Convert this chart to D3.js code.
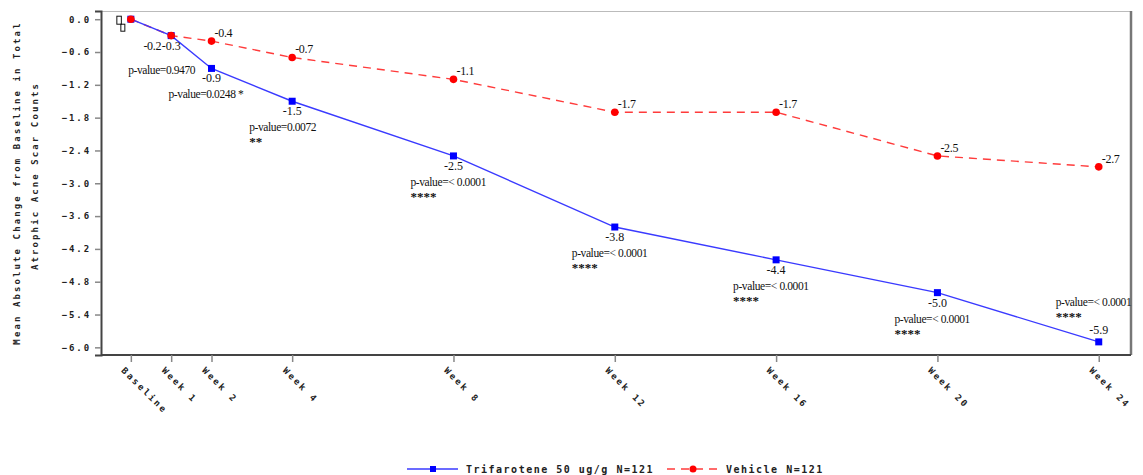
<!DOCTYPE html>
<html>
<head>
<meta charset="utf-8">
<script src="https://cdn.jsdelivr.net/npm/d3@7"></script>
<style>
  html, body { margin: 0; padding: 0; background: #fff; }
  svg { display: block; }
  .mono { font-family: "DejaVu Sans Mono", monospace; font-weight: bold; fill: #222; }
  .serif { font-family: "Liberation Serif", "DejaVu Serif", serif; fill: #111; }
</style>
</head>
<body>
<svg id="chart" width="1143" height="475"></svg>
<script>
// ---------- data ----------
const weeks = [0, 1, 2, 4, 8, 12, 16, 20, 24];
const weekLabels = ["Baseline", "Week 1", "Week 2", "Week 4", "Week 8", "Week 12", "Week 16", "Week 20", "Week 24"];
const trifarotene = [0, -0.3, -0.9, -1.5, -2.5, -3.8, -4.4, -5.0, -5.9];
const trifaroteneLabels = ["", "-0.3", "-0.9", "-1.5", "-2.5", "-3.8", "-4.4", "-5.0", "-5.9"];
const vehicle = [0, -0.3, -0.4, -0.7, -1.1, -1.7, -1.7, -2.5, -2.7];
const vehicleLabels = ["", "-0.2", "-0.4", "-0.7", "-1.1", "-1.7", "-1.7", "-2.5", "-2.7"];
const pValues = ["", "p-value=0.9470", "p-value=0.0248 *", "p-value=0.0072", "p-value=< 0.0001", "p-value=< 0.0001", "p-value=< 0.0001", "p-value=< 0.0001", "p-value=< 0.0001"];
const pStars = ["", "", "", "**", "****", "****", "****", "****", "****"];
const yTicks = [0, -0.6, -1.2, -1.8, -2.4, -3.0, -3.6, -4.2, -4.8, -5.4, -6.0];
const yTitle = ["Mean Absolute Change from Baseline in Total", "Atrophic Acne Scar Counts"];
const seriesNames = ["Trifarotene 50 ug/g N=121", "Vehicle N=121"];

// ---------- layout ----------
const svg = d3.select("#chart");
const L = 101, R = 1131, T = 11, B = 355;
const x = d3.scaleLinear().domain([-0.74, 24.8]).range([L, R]);
const y = d3.scaleLinear().domain([0.15, -6.14]).range([T, B]);
const blue = "#0000ff", red = "#ff0000";

// frame
svg.append("line").attr("x1", L).attr("x2", R).attr("y1", T + 0.5).attr("y2", T + 0.5)
  .attr("stroke", "#bbb").attr("stroke-width", 1);
svg.append("line").attr("x1", R).attr("x2", R).attr("y1", T).attr("y2", B)
  .attr("stroke", "#777").attr("stroke-width", 2.5);

// y axis
const yAxis = svg.append("g").attr("transform", `translate(${L},0)`)
  .call(d3.axisLeft(y).tickValues(yTicks).tickFormat(d3.format(".1f")).tickSize(6).tickPadding(4));
yAxis.select(".domain").attr("stroke", "#444").attr("stroke-width", 2);
yAxis.selectAll(".tick line").attr("stroke", "#888").attr("stroke-width", 1.5);
yAxis.selectAll(".tick text").attr("class", "mono").attr("font-size", 9)
  .style("letter-spacing", "1.9px").attr("fill", "#222");

// x axis
const xAxis = svg.append("g").attr("transform", `translate(0,${B})`)
  .call(d3.axisBottom(x).tickValues(weeks).tickFormat("").tickSize(7).tickSizeOuter(0));
xAxis.select(".domain").attr("stroke", "#444").attr("stroke-width", 2)
  .attr("d", `M${L},0H${R}`);
xAxis.selectAll(".tick line").attr("stroke", "#888").attr("stroke-width", 1.5);
svg.append("g").selectAll("text").data(weeks).join("text")
  .attr("class", "mono").attr("font-size", 9).style("letter-spacing", "2.2px")
  .attr("transform", d => `translate(${x(d) - 10},${B + 16}) rotate(45)`)
  .text((d, i) => weekLabels[i]);

// y title
svg.append("g").selectAll("text").data(yTitle).join("text")
  .attr("class", "mono").attr("font-size", 9).style("letter-spacing", "2.1px")
  .attr("text-anchor", "middle")
  .attr("transform", (d, i) => `translate(${20 + i * 18},${i === 0 ? 183 : 176}) rotate(-90)`)
  .text(d => d);

// lines
const line = d3.line().x((d, i) => x(weeks[i])).y(d => y(d));
svg.append("path").datum(vehicle).attr("d", line).attr("fill", "none")
  .attr("stroke", "#ff3b3b").attr("stroke-width", 1.4).attr("stroke-dasharray", "8,6");
svg.append("path").datum(trifarotene).attr("d", line).attr("fill", "none")
  .attr("stroke", "#3a3aff").attr("stroke-width", 1.4);

// markers
svg.append("g").selectAll("rect").data(trifarotene).join("rect")
  .attr("x", (d, i) => x(weeks[i]) - 3.5).attr("y", d => y(d) - 3.5)
  .attr("width", 7).attr("height", 7).attr("fill", blue);
svg.append("g").selectAll("circle").data(vehicle).join("circle")
  .attr("cx", (d, i) => x(weeks[i])).attr("cy", d => y(d)).attr("r", 3.8).attr("fill", red);

// baseline missing-glyph boxes
const bx = x(weeks[0]), by = y(trifarotene[0]);
svg.append("rect").attr("x", bx - 14).attr("y", by - 3).attr("width", 4.5).attr("height", 8)
  .attr("fill", "none").attr("stroke", "#111").attr("stroke-width", 1);
svg.append("rect").attr("x", bx - 10).attr("y", by + 5).attr("width", 4).attr("height", 7)
  .attr("fill", "none").attr("stroke", "#111").attr("stroke-width", 1);

// vehicle labels
const last = weeks.length - 1;
svg.append("g").selectAll("text").data(vehicle).join("text")
  .attr("class", "serif").attr("font-size", 12)
  .attr("x", (d, i) => i === 1 ? x(weeks[i]) - 10 : x(weeks[i]) + 3)
  .attr("y", (d, i) => i === 1 ? y(d) + 14 : y(d) - 4)
  .attr("text-anchor", (d, i) => i === 1 ? "end" : "start")
  .style("letter-spacing", "-0.3px")
  .text((d, i) => vehicleLabels[i]);

// trifarotene labels
const tg = svg.append("g");
tg.selectAll("text.val").data(trifarotene).join("text").attr("class", "serif val")
  .attr("font-size", 12).attr("text-anchor", "middle")
  .attr("x", (d, i) => x(weeks[i]))
  .attr("y", (d, i) => i === last ? y(d) - 8 : y(d) + 14)
  .text((d, i) => trifaroteneLabels[i]);
tg.selectAll("text.pv").data(trifarotene).join("text").attr("class", "serif pv")
  .attr("font-size", 11.5).style("letter-spacing", "-0.4px")
  .attr("x", (d, i) => x(weeks[i]) - 43)
  .attr("y", (d, i) => i === last ? y(d) - 36 : (i === 1 ? y(d) + 38 : y(d) + 30))
  .text((d, i) => pValues[i]);
tg.selectAll("text.st").data(trifarotene).join("text").attr("class", "serif st")
  .attr("font-size", 13).attr("font-weight", "bold").style("letter-spacing", "0px")
  .attr("x", (d, i) => x(weeks[i]) - 43)
  .attr("y", (d, i) => i === last ? y(d) - 21 : y(d) + 45)
  .text((d, i) => pStars[i]);

// legend
const lg = svg.append("g").attr("transform", "translate(0,469)");
lg.append("line").attr("x1", 407).attr("x2", 458).attr("stroke", "#3a3aff").attr("stroke-width", 1.4);
lg.append("rect").attr("x", 430).attr("y", -3).attr("width", 6).attr("height", 6).attr("fill", blue);
lg.append("text").attr("class", "mono").attr("font-size", 10).style("letter-spacing", "1.5px")
  .attr("x", 466).attr("y", 4).text(seriesNames[0]);
lg.append("line").attr("x1", 667).attr("x2", 720).attr("stroke", "#ff3b3b")
  .attr("stroke-width", 1.4).attr("stroke-dasharray", "8,6");
lg.append("circle").attr("cx", 693).attr("cy", 0).attr("r", 3.5).attr("fill", red);
lg.append("text").attr("class", "mono").attr("font-size", 10).style("letter-spacing", "1.5px")
  .attr("x", 726).attr("y", 4).text(seriesNames[1]);
</script>
</body>
</html>
